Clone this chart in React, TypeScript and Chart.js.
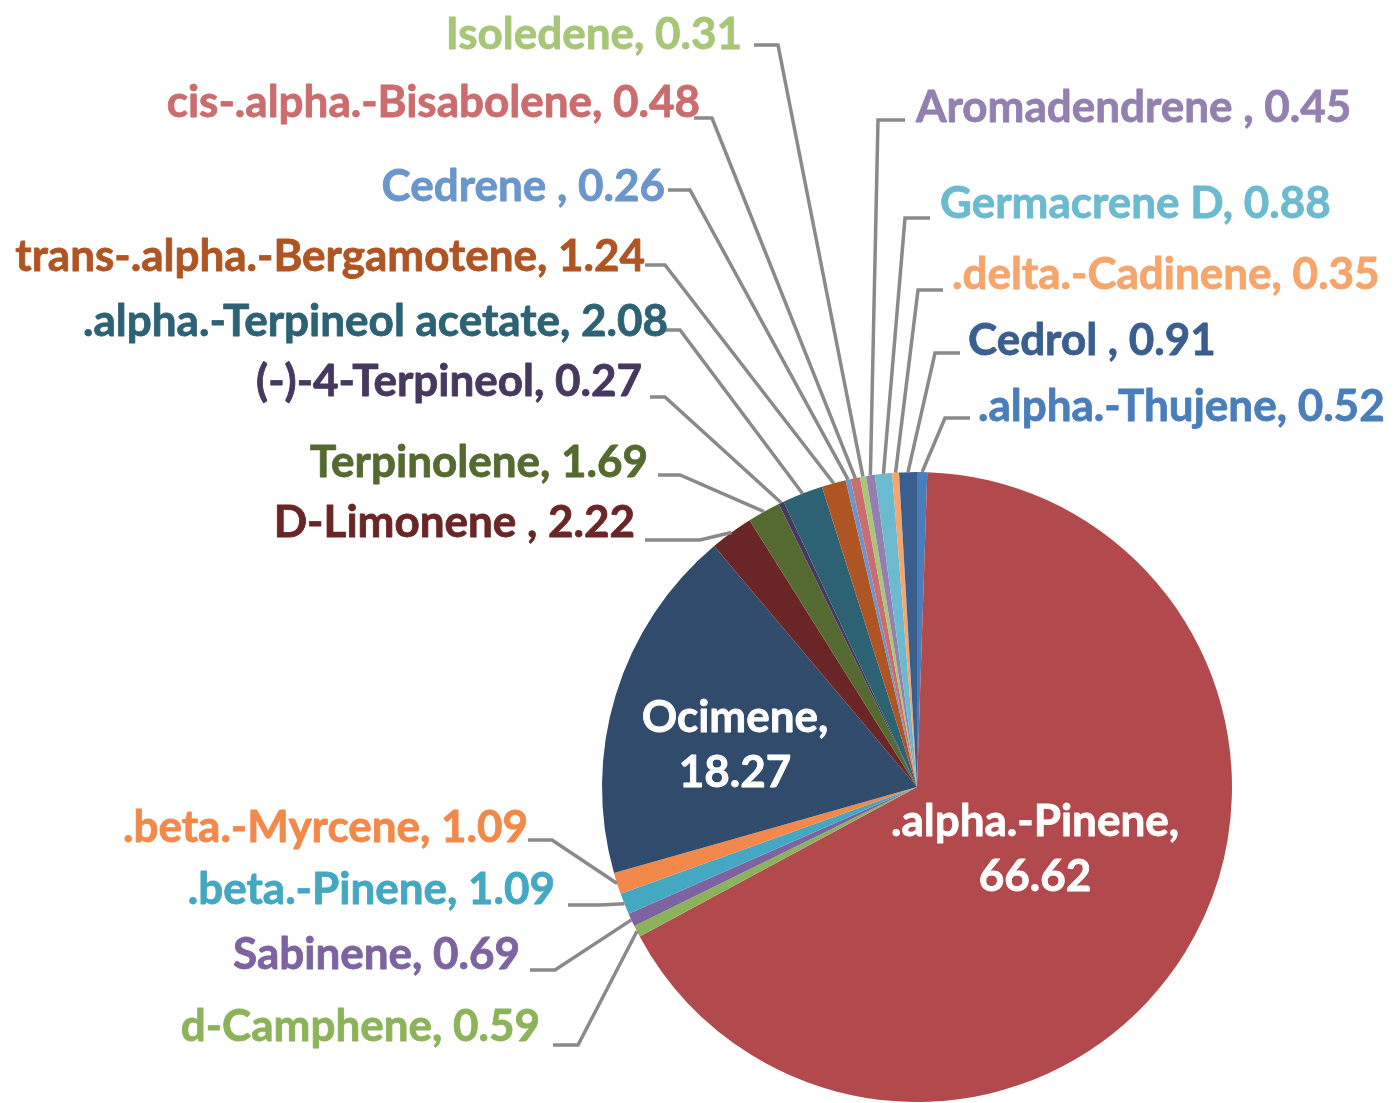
import React, { useEffect, useRef } from "react";
import { Chart, registerables } from "chart.js";

Chart.register(...registerables);

const compoundNames = [
  ".alpha.-Thujene",
  ".alpha.-Pinene",
  "d-Camphene",
  "Sabinene",
  ".beta.-Pinene",
  ".beta.-Myrcene",
  "Ocimene",
  "D-Limonene ",
  "Terpinolene",
  "(-)-4-Terpineol",
  ".alpha.-Terpineol acetate",
  "trans-.alpha.-Bergamotene",
  "Cedrene ",
  "cis-.alpha.-Bisabolene",
  "Isoledene",
  "Aromadendrene ",
  "Germacrene D",
  ".delta.-Cadinene",
  "Cedrol ",
];

const compoundValues = [
  0.52, 66.62, 0.59, 0.69, 1.09, 1.09, 18.27, 2.22, 1.69, 0.27, 2.08, 1.24, 0.26,
  0.48, 0.31, 0.45, 0.88, 0.35, 0.91,
];

const sliceColors = [
  "#4A7EBB",
  "#B24A4D",
  "#8DB35A",
  "#7E63A1",
  "#45A8C2",
  "#F2894A",
  "#304B6B",
  "#6A2626",
  "#556A30",
  "#46385F",
  "#2C6274",
  "#AF5523",
  "#6A96CB",
  "#CB6C6E",
  "#A8C677",
  "#9480B0",
  "#6CBAD0",
  "#F6A56B",
  "#3A5F8E",
];

// label layout (pixels in the canvas)
type LabelLayout =
  | { side: "inside"; tx: number; ty: number }
  | { side: "left" | "right"; tx: number; ty: number; ly: number; hx: number; ex: number };

const labelLayout: LabelLayout[] = [
  { side: "right", tx: 978, ty: 407, ly: 418, hx: 970, ex: 945 },
  { side: "inside", tx: 1035, ty: 822 },
  { side: "left", tx: 540, ty: 1027, ly: 1045, hx: 553, ex: 578 },
  { side: "left", tx: 520, ty: 955, ly: 970, hx: 530, ex: 555 },
  { side: "left", tx: 555, ty: 890, ly: 905, hx: 568, ex: 600 },
  { side: "left", tx: 528, ty: 828, ly: 840, hx: 528, ex: 552 },
  { side: "inside", tx: 735, ty: 718 },
  { side: "left", tx: 635, ty: 523, ly: 540, hx: 645, ex: 700 },
  { side: "left", tx: 648, ty: 463, ly: 475, hx: 658, ex: 680 },
  { side: "left", tx: 642, ty: 382, ly: 397, hx: 650, ex: 665 },
  { side: "left", tx: 668, ty: 322, ly: 330, hx: 660, ex: 680 },
  { side: "left", tx: 645, ty: 257, ly: 265, hx: 645, ex: 665 },
  { side: "left", tx: 665, ty: 187, ly: 190, hx: 668, ex: 690 },
  { side: "left", tx: 700, ty: 103, ly: 118, hx: 694, ex: 712 },
  { side: "left", tx: 742, ty: 35, ly: 45, hx: 754, ex: 778 },
  { side: "right", tx: 916, ty: 108, ly: 120, hx: 905, ex: 878 },
  { side: "right", tx: 940, ty: 204, ly: 218, hx: 930, ex: 905 },
  { side: "right", tx: 952, ty: 275, ly: 290, hx: 943, ex: 918 },
  { side: "right", tx: 968, ty: 341, ly: 353, hx: 960, ex: 935 },
];

const FONT = "bold 44px Lato";
const LEADER_COLOR = "#8A8A8A";

const labelPlugin = {
  id: "pieLabels",
  afterDatasetsDraw(chart: any) {
    const ctx: CanvasRenderingContext2D = chart.ctx;
    const meta = chart.getDatasetMeta(0);
    ctx.save();
    ctx.font = FONT;
    meta.data.forEach((arc: any, i: number) => {
      const lay = labelLayout[i];
      const name = compoundNames[i];
      const val = compoundValues[i].toFixed(2);
      const p = arc.getProps(["x", "y", "startAngle", "endAngle", "outerRadius"], true);
      const mid = (p.startAngle + p.endAngle) / 2;
      ctx.lineJoin = "round";
      if (lay.side === "inside") {
        ctx.fillStyle = "#FFFFFF";
        ctx.strokeStyle = "#FFFFFF";
        ctx.lineWidth = 0.8;
        ctx.textAlign = "center";
        ctx.textBaseline = "middle";
        ctx.fillText(name + ",", lay.tx, lay.ty);
        ctx.strokeText(name + ",", lay.tx, lay.ty);
        ctx.fillText(val, lay.tx, lay.ty + 55);
        ctx.strokeText(val, lay.tx, lay.ty + 55);
        return;
      }
      const px = p.x + p.outerRadius * Math.cos(mid);
      const py = p.y + p.outerRadius * Math.sin(mid);
      ctx.strokeStyle = LEADER_COLOR;
      ctx.lineWidth = 3.5;
      ctx.lineJoin = "miter";
      ctx.beginPath();
      ctx.moveTo(lay.hx, lay.ly);
      ctx.lineTo(lay.ex, lay.ly);
      ctx.lineTo(px, py);
      ctx.stroke();
      ctx.fillStyle = sliceColors[i];
      ctx.strokeStyle = sliceColors[i];
      ctx.lineWidth = 0.8;
      ctx.lineJoin = "round";
      ctx.textAlign = lay.side === "left" ? "right" : "left";
      ctx.textBaseline = "middle";
      const txt = name + ", " + val;
      ctx.fillText(txt, lay.tx, lay.ty);
      ctx.strokeText(txt, lay.tx, lay.ty);
    });
    ctx.restore();
  },
};

export default function App() {
  const canvasRef = useRef<HTMLCanvasElement | null>(null);

  useEffect(() => {
    document.body.style.margin = "0";
    const canvas = canvasRef.current;
    if (!canvas) return;
    const chart = new Chart(canvas, {
      type: "pie",
      data: {
        labels: compoundNames,
        datasets: [
          {
            data: compoundValues,
            backgroundColor: sliceColors,
            borderWidth: 0,
          },
        ],
      },
      options: {
        responsive: false,
        animation: false,
        devicePixelRatio: 1,
        layout: { padding: { left: 602, right: 166, top: 472, bottom: 1 } },
        plugins: {
          legend: { display: false },
          tooltip: { enabled: false },
        },
      },
      plugins: [labelPlugin],
    });
    return () => chart.destroy();
  }, []);

  return (
    <div style={{ width: 1398, height: 1103, background: "#FFFFFF" }}>
      <canvas ref={canvasRef} width={1398} height={1103} style={{ display: "block" }} />
    </div>
  );
}
